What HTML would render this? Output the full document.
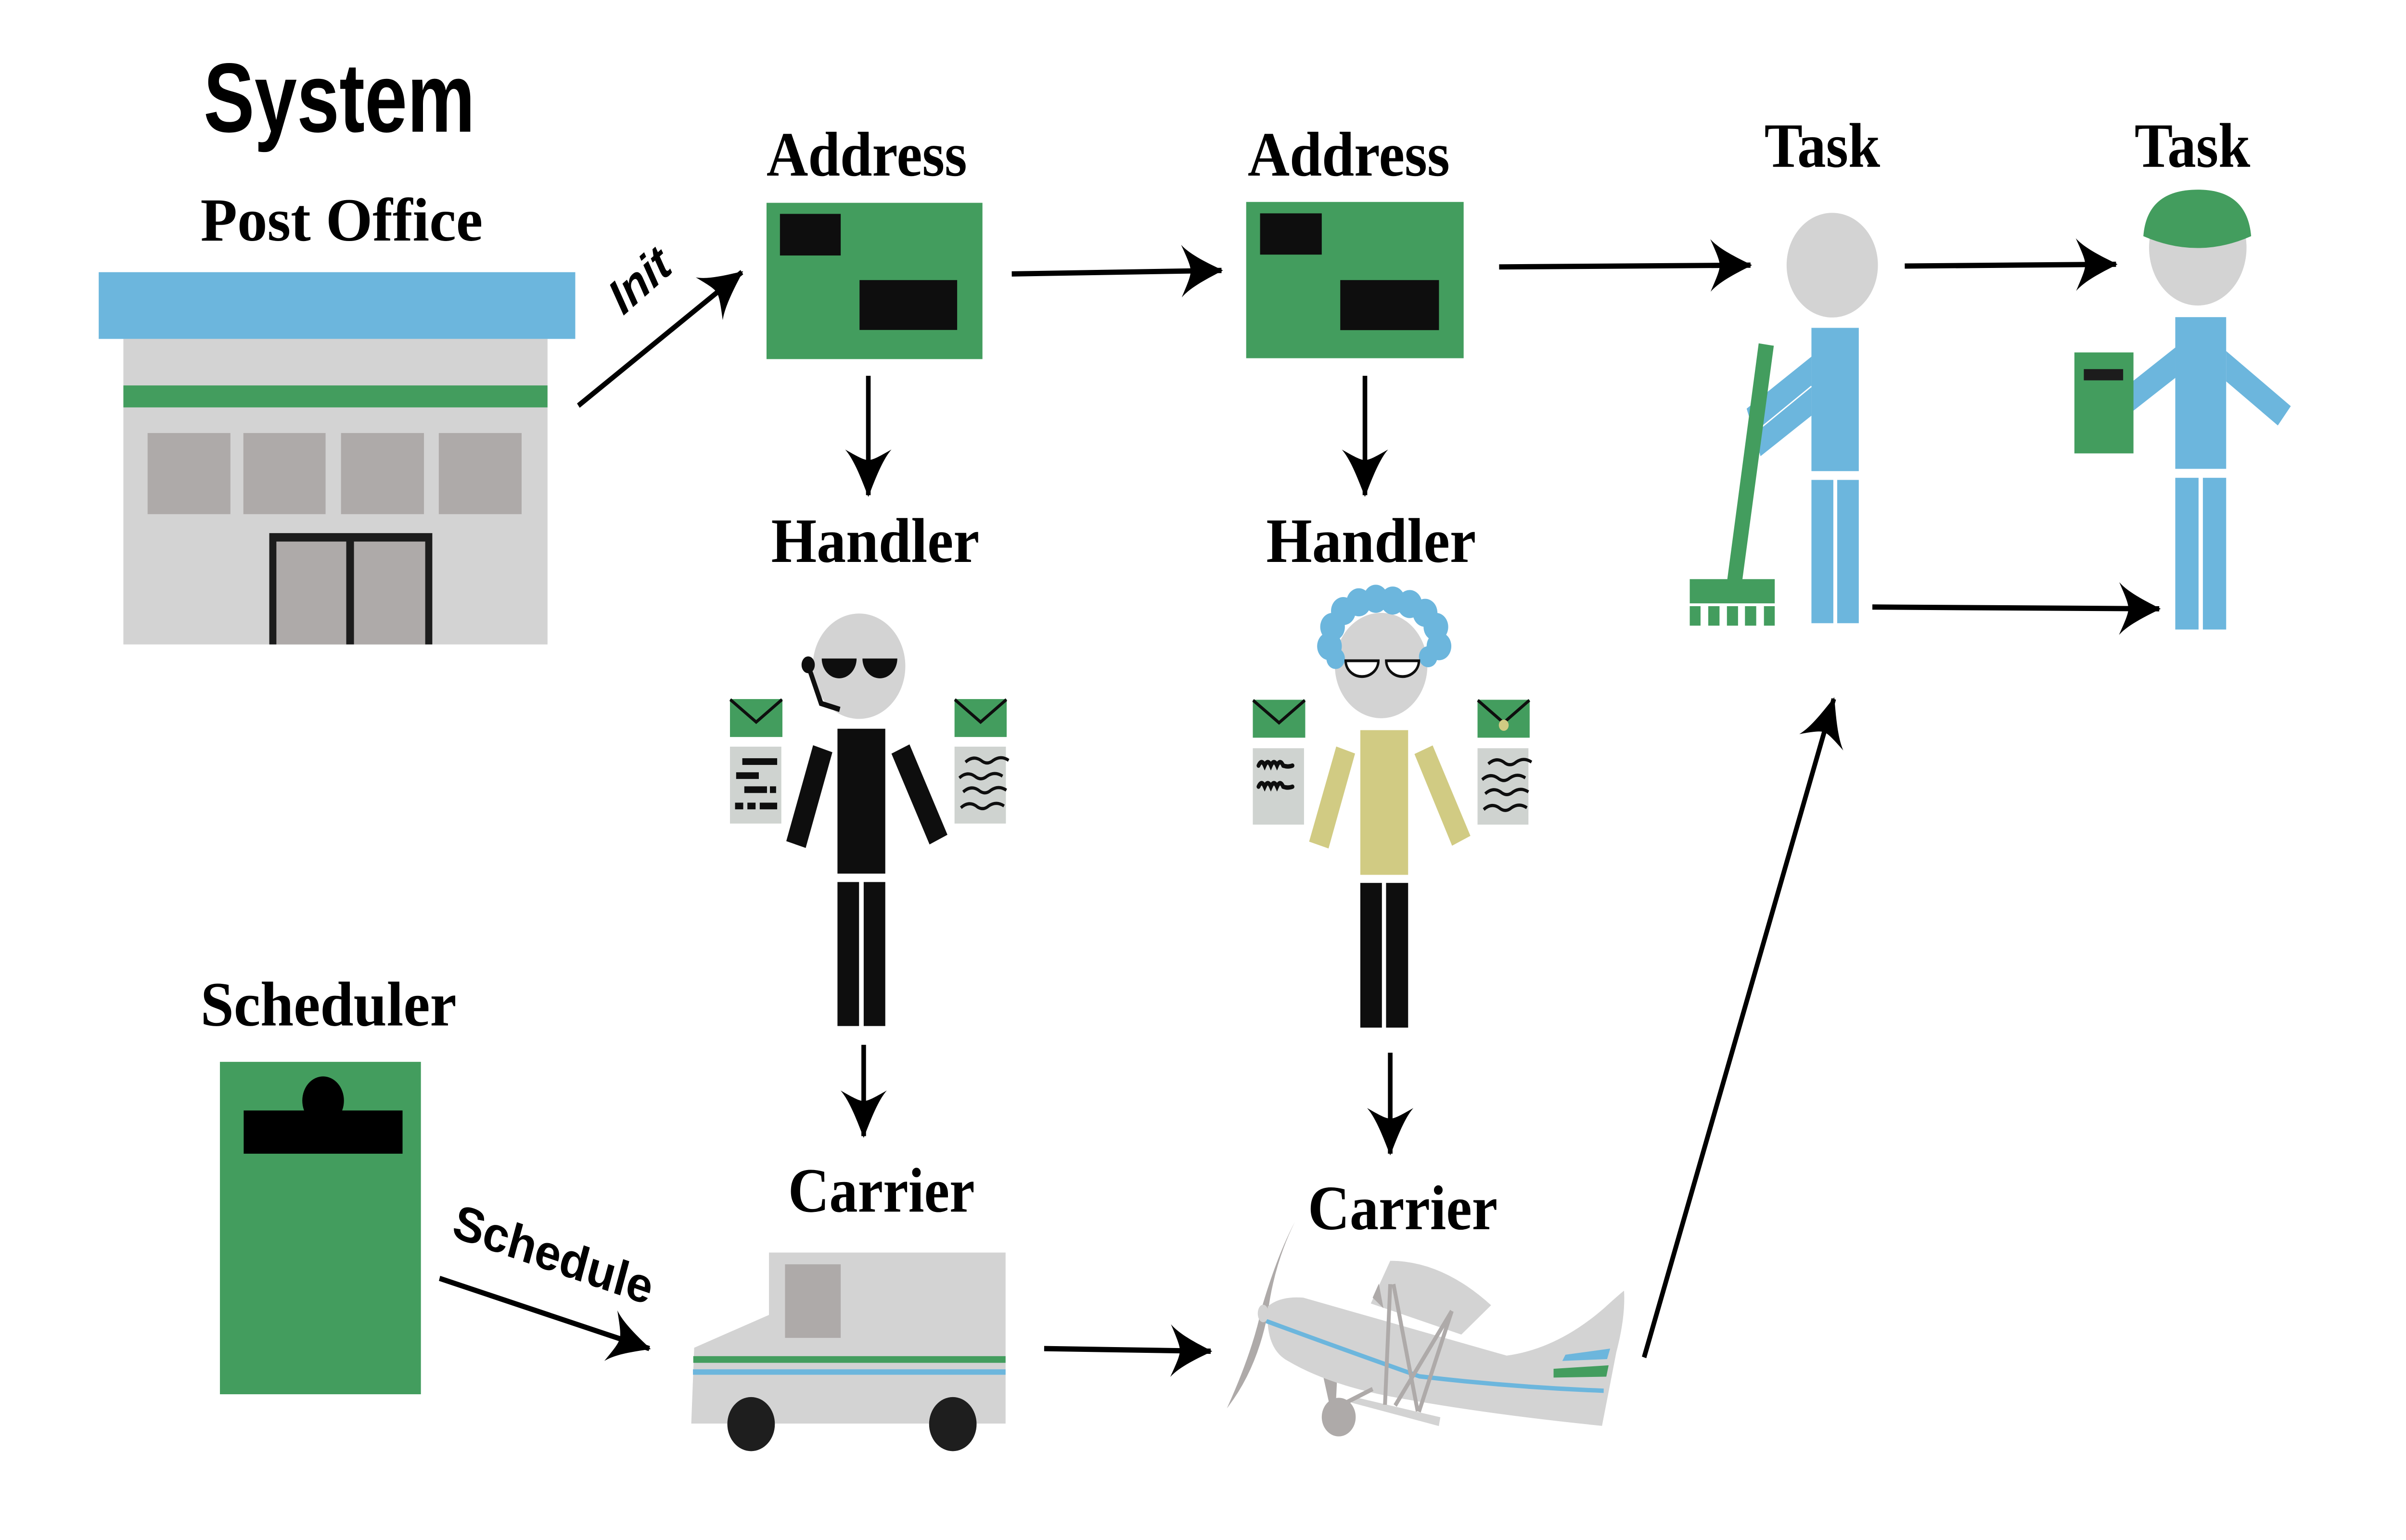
<!DOCTYPE html>
<html><head><meta charset="utf-8">
<style>
html,body{margin:0;padding:0;background:#fff;width:100vw;height:100vh;overflow:hidden;}
svg{display:block;position:absolute;left:0;top:0;width:100vw;height:100vh;}
.t{font-family:"Liberation Serif",serif;font-weight:bold;fill:#000;}
.s{font-family:"Liberation Sans",sans-serif;font-weight:bold;fill:#000;}
</style></head><body>
<svg viewBox="0 0 1560 877" preserveAspectRatio="none" xmlns="http://www.w3.org/2000/svg">
<defs>
<marker id="ah" markerUnits="userSpaceOnUse" viewBox="0 -16 28 32" markerWidth="28" markerHeight="32" refX="26" refY="0" orient="auto">
<path d="M27,0 C18,-4 6,-9 0,-15 C4,-7 6,-3 6,0 C6,3 4,7 0,15 C6,9 18,4 27,0Z" fill="#000"/>
</marker>
</defs>
<rect width="1560" height="877" fill="#fff"/>

<text class="s" x="132" y="75" font-size="56" textLength="176" lengthAdjust="spacingAndGlyphs">System</text>
<text class="t" x="130" y="137" font-size="35" textLength="183" lengthAdjust="spacingAndGlyphs">Post Office</text>

<rect x="64" y="155" width="309" height="38" fill="#6cb6dd"/>
<rect x="80" y="193" width="275" height="174" fill="#d3d3d3"/>
<rect x="80" y="219.5" width="275" height="12.5" fill="#439d5e"/>
<rect x="95.7" y="246.6" width="53.7" height="46.2" fill="#aeaaa9"/>
<rect x="157.8" y="246.6" width="53.3" height="46.2" fill="#aeaaa9"/>
<rect x="221.1" y="246.6" width="53.8" height="46.2" fill="#aeaaa9"/>
<rect x="284.5" y="246.6" width="53.7" height="46.2" fill="#aeaaa9"/>
<rect x="174.6" y="303.6" width="105.7" height="63.4" fill="#1c1c1c"/>
<rect x="179.2" y="308.4" width="45.3" height="58.6" fill="#aeaaa9"/>
<rect x="229.5" y="308.4" width="46.2" height="58.6" fill="#aeaaa9"/>

<line x1="375" y1="231" x2="481" y2="155" stroke="#000" stroke-width="3" marker-end="url(#ah)"/>
<text class="s" x="0" y="0" font-size="28" font-style="italic" transform="translate(404,180) rotate(-38)">Init</text>

<text class="t" x="497" y="100" font-size="36" textLength="130" lengthAdjust="spacingAndGlyphs">Address</text>
<rect x="497" y="115.5" width="140" height="89" fill="#439d5e"/>
<rect x="505.7" y="121.8" width="39.4" height="23.7" fill="#0e0e0e"/>
<rect x="557.3" y="159.5" width="63.3" height="28.4" fill="#0e0e0e"/>
<line x1="656" y1="156" x2="792" y2="154" stroke="#000" stroke-width="3" marker-end="url(#ah)"/>

<text class="t" x="809" y="100" font-size="36" textLength="131" lengthAdjust="spacingAndGlyphs">Address</text>
<rect x="808" y="115" width="141" height="89" fill="#439d5e"/>
<rect x="817" y="121.5" width="40" height="23.5" fill="#0e0e0e"/>
<rect x="869" y="159.5" width="64" height="28.5" fill="#0e0e0e"/>
<line x1="972" y1="152" x2="1135" y2="151" stroke="#000" stroke-width="3" marker-end="url(#ah)"/>

<text class="t" x="1144" y="95" font-size="36" textLength="75" lengthAdjust="spacingAndGlyphs">Task</text>
<text class="t" x="1384" y="95" font-size="36" textLength="75" lengthAdjust="spacingAndGlyphs">Task</text>
<line x1="1235" y1="151.5" x2="1372" y2="150.5" stroke="#000" stroke-width="3" marker-end="url(#ah)"/>

<line x1="563" y1="214" x2="563" y2="282" stroke="#000" stroke-width="3" marker-end="url(#ah)"/>
<line x1="885" y1="214" x2="885" y2="282" stroke="#000" stroke-width="3" marker-end="url(#ah)"/>
<text class="t" x="500" y="320" font-size="36" textLength="135" lengthAdjust="spacingAndGlyphs">Handler</text>
<text class="t" x="821" y="320" font-size="36" textLength="136" lengthAdjust="spacingAndGlyphs">Handler</text>

<ellipse cx="557" cy="379.4" rx="30" ry="30" fill="#d3d3d3"/>
<path d="M532.8,375 a11.3,11.3 0 0 0 22.6,0 Z" fill="#0e0e0e"/>
<path d="M559.2,375 a11.3,11.3 0 0 0 22.6,0 Z" fill="#0e0e0e"/>
<polyline points="524,379 532.4,400.6 544.5,404" fill="none" stroke="#0e0e0e" stroke-width="3"/>
<ellipse cx="524" cy="378.6" rx="4.3" ry="4.8" fill="#0e0e0e"/>
<rect x="543" y="415" width="31" height="82.5" fill="#0e0e0e"/>
<rect x="543" y="502.3" width="14" height="82" fill="#0e0e0e"/>
<rect x="560" y="502.3" width="14" height="82" fill="#0e0e0e"/>
<polygon points="527.2,424.4 539.7,428.4 522.4,482.9 509.8,479" fill="#0e0e0e"/>
<polygon points="578,429.2 589.7,423.9 614.3,475.4 602.7,480.9" fill="#0e0e0e"/>
<rect x="473.3" y="398.1" width="34" height="21.6" fill="#439d5e"/>
<polyline points="473.5,398.4 490.3,411.2 507,398.4" fill="none" stroke="#0e0e0e" stroke-width="1.8"/>
<rect x="473.3" y="425.2" width="33.3" height="43.8" fill="#cfd3d0"/>
<g fill="#0e0e0e">
<rect x="481.3" y="431.8" width="22.6" height="3.8"/>
<rect x="477.3" y="439.8" width="14.7" height="3.8"/>
<rect x="482.6" y="447.8" width="14.7" height="3.8"/>
<rect x="499.2" y="447.8" width="4" height="3.8"/>
<rect x="476.6" y="457.1" width="5.3" height="3.8"/>
<rect x="484.6" y="457.1" width="5.3" height="3.8"/>
<rect x="492.6" y="457.1" width="11.3" height="3.8"/>
</g>
<rect x="618.9" y="398.1" width="33.8" height="21.6" fill="#439d5e"/>
<polyline points="619.1,398.4 635.8,411.2 652.5,398.4" fill="none" stroke="#0e0e0e" stroke-width="1.8"/>
<rect x="618.9" y="425.2" width="33.3" height="43.8" fill="#cfd3d0"/>
<g fill="none" stroke="#0e0e0e" stroke-width="1.8">
<path d="M626,434 q5,-4 10,-1 q4,3 8,0 q5,-3 10,0"/>
<path d="M622,443 q5,-4 10,-1 q4,3 8,0 q5,-3 10,0"/>
<path d="M624.5,451 q5,-4 10,-1 q4,3 8,0 q5,-3 10,0"/>
<path d="M623,460 q5,-4 10,-1 q4,3 8,0 q5,-3 10,0"/>
</g>

<ellipse cx="895.5" cy="379" rx="30" ry="30" fill="#d3d3d3"/>
<g fill="#6cb6dd">
<circle cx="862" cy="368" r="8"/><circle cx="864" cy="357" r="8"/><circle cx="871" cy="348" r="8"/>
<circle cx="881" cy="343" r="8"/><circle cx="892" cy="341" r="8"/><circle cx="903" cy="342" r="8"/>
<circle cx="914" cy="344" r="8"/><circle cx="924" cy="349" r="8"/><circle cx="931" cy="357" r="8"/>
<circle cx="933" cy="368" r="8"/><circle cx="926" cy="374" r="6"/><circle cx="866" cy="375" r="6"/>
</g>
<path d="M872.5,376.3 a10.6,9 0 0 0 21.2,0 Z" fill="#fff" stroke="#0e0e0e" stroke-width="1.6"/>
<path d="M898.8,376.3 a10.6,9 0 0 0 21.2,0 Z" fill="#fff" stroke="#0e0e0e" stroke-width="1.6"/>
<rect x="882" y="415.8" width="31" height="82.4" fill="#d1cb83"/>
<rect x="882" y="502.8" width="14" height="82.4" fill="#0e0e0e"/>
<rect x="898.7" y="502.8" width="14.3" height="82.4" fill="#0e0e0e"/>
<polygon points="866.4,425.1 878.6,429.1 861.4,483.2 848.8,479.3" fill="#d1cb83"/>
<polygon points="917.1,429.4 928.9,424.5 953.4,476 941.5,481.6" fill="#d1cb83"/>
<rect x="812.3" y="398.5" width="34" height="21.6" fill="#439d5e"/>
<polyline points="812.5,398.8 829.3,411.6 846,398.8" fill="none" stroke="#0e0e0e" stroke-width="1.8"/>
<rect x="812.3" y="426.1" width="33.2" height="43.5" fill="#cfd3d0"/>
<g fill="none" stroke="#0e0e0e" stroke-width="2.5" stroke-linecap="round">
<path d="M816,436 q2,-4 4,0 q2,-4 4,0 q2,-4 4,0 q2,-4 4,0 q3,1 6,0"/>
<path d="M816,448 q2,-4 4,0 q2,-4 4,0 q2,-4 4,0 q2,-4 4,0 q3,1 6,0"/>
</g>
<rect x="958" y="398.5" width="33.8" height="21.6" fill="#439d5e"/>
<polyline points="958.2,398.8 974.9,411.6 991.6,398.8" fill="none" stroke="#0e0e0e" stroke-width="1.8"/>
<circle cx="975" cy="413" r="3.2" fill="#d1cb83"/>
<rect x="958" y="426.1" width="33" height="43.5" fill="#cfd3d0"/>
<g fill="none" stroke="#0e0e0e" stroke-width="1.8">
<path d="M965,435 q5,-4 10,-1 q4,3 8,0 q5,-3 10,0"/>
<path d="M961,444 q5,-4 10,-1 q4,3 8,0 q5,-3 10,0"/>
<path d="M963,452 q5,-4 10,-1 q4,3 8,0 q5,-3 10,0"/>
<path d="M962,461 q5,-4 10,-1 q4,3 8,0 q5,-3 10,0"/>
</g>

<line x1="560" y1="595" x2="560" y2="647" stroke="#000" stroke-width="3" marker-end="url(#ah)"/>
<line x1="901.4" y1="599.5" x2="901.4" y2="657" stroke="#000" stroke-width="3" marker-end="url(#ah)"/>
<text class="t" x="511" y="690" font-size="36" textLength="121" lengthAdjust="spacingAndGlyphs">Carrier</text>
<text class="t" x="848" y="700" font-size="36" textLength="123" lengthAdjust="spacingAndGlyphs">Carrier</text>

<text class="t" x="130" y="584" font-size="36" textLength="166" lengthAdjust="spacingAndGlyphs">Scheduler</text>
<rect x="142.6" y="604.7" width="130.3" height="189.3" fill="#439d5e"/>
<ellipse cx="209.5" cy="626.8" rx="13.5" ry="13.8" fill="#000"/>
<rect x="158" y="632.4" width="103" height="24.6" fill="#000"/>
<line x1="285" y1="728" x2="421" y2="768" stroke="#000" stroke-width="3" marker-end="url(#ah)"/>
<text class="s" x="0" y="0" font-size="28" transform="translate(292,704) rotate(17)" textLength="134" lengthAdjust="spacingAndGlyphs">Schedule</text>

<path d="M498.6,713.3 L652,713.3 L652,810.7 L448.2,810.7 L450.1,767.5 L498.6,748.8 Z" fill="#d3d3d3"/>
<rect x="509" y="720" width="36.1" height="41.9" fill="#aeaaa9"/>
<rect x="449.5" y="772.3" width="202.5" height="3.8" fill="#439d5e"/>
<rect x="449.3" y="779.8" width="202.7" height="3.1" fill="#6cb6dd"/>
<circle cx="487" cy="811" r="15.4" fill="#1e1e1e"/>
<circle cx="617.8" cy="811" r="15.4" fill="#1e1e1e"/>
<line x1="677" y1="768" x2="785" y2="769.5" stroke="#000" stroke-width="3" marker-end="url(#ah)"/>

<path d="M839.6,695.8 Q826,720 822,748 Q815,780 795.5,802 Q812,770 818,745 Q828,715 839.6,695.8Z" fill="#aeaaa9"/>
<path d="M901.4,718 Q935,718 966.8,743.3 L947.5,760 L888.8,742.3 Z" fill="#d3d3d3"/>
<polygon points="890,739 894,731 897,745" fill="#aeaaa9"/>
<path d="M857,780 L862,800 L866,802 L867,784 Z" fill="#aeaaa9"/>
<circle cx="868" cy="807" r="11" fill="#aeaaa9"/>
<path d="M822,744 Q830,738 845,739 L976.9,772 Q1010,768 1040,745 Q1050,737 1053,735 Q1054,750 1048,770 L1038.7,812 Q960,805 900,795 Q860,788 835,775 Q820,768 822,744Z" fill="#d3d3d3"/>
<path d="M821,752.3 Q860,765 920.3,783.8 Q980,790 1039.8,792" fill="none" stroke="#6cb6dd" stroke-width="2.5"/>
<polygon points="1015,771.5 1044,768 1042,774 1013,775" fill="#6cb6dd"/>
<polygon points="1007.3,779.5 1043,777.5 1041.5,784 1007.3,784.5" fill="#439d5e"/>
<polygon points="877.3,795.4 933.9,807.1 932.9,812.1 876.3,798.8" fill="#d3d3d3"/>
<g stroke="#aeaaa9" stroke-width="2.5" fill="none">
<line x1="901.4" y1="731.3" x2="898" y2="800"/>
<line x1="903.5" y1="731.3" x2="919.2" y2="803.7"/>
<line x1="941.3" y1="746.6" x2="904.6" y2="800.4"/>
<line x1="941.3" y1="746.6" x2="920" y2="804"/>
<line x1="870" y1="800" x2="890" y2="791"/>
</g>
<ellipse cx="819" cy="748" rx="3.5" ry="5" fill="#d3d3d3"/>

<line x1="1066" y1="773" x2="1189" y2="398" stroke="#000" stroke-width="3" marker-end="url(#ah)"/>

<ellipse cx="1188" cy="151" rx="29.6" ry="29.8" fill="#d3d3d3"/>
<rect x="1174.5" y="186.7" width="30.7" height="81.6" fill="#6cb6dd"/>
<rect x="1174.5" y="273.3" width="14.2" height="81.6" fill="#6cb6dd"/>
<rect x="1191.2" y="273.3" width="14" height="81.6" fill="#6cb6dd"/>
<polygon points="1174.5,203.1 1174.5,236.7 1141.5,259.8 1132.5,232.7" fill="#6cb6dd"/>
<line x1="1174.5" y1="220" x2="1137" y2="247" stroke="#fff" stroke-width="0.8"/>
<polygon points="1140.3,195.5 1150.1,196.9 1129.7,330.2 1119.9,330.2" fill="#439d5e"/>
<rect x="1095.6" y="329.8" width="55.1" height="13.8" fill="#439d5e"/>
<g fill="#439d5e">
<rect x="1095.6" y="345.2" width="7" height="11.1"/>
<rect x="1107.6" y="345.2" width="7.3" height="11.1"/>
<rect x="1119.7" y="345.2" width="7.2" height="11.1"/>
<rect x="1131.4" y="345.2" width="7.3" height="11.1"/>
<rect x="1143.7" y="345.2" width="7" height="11.1"/>
</g>
<line x1="1214" y1="345.7" x2="1400" y2="346.7" stroke="#000" stroke-width="3" marker-end="url(#ah)"/>

<ellipse cx="1425" cy="141" rx="31.6" ry="33" fill="#d3d3d3"/>
<path d="M1389.7,134.5 Q1392,108 1425,108 Q1457,108 1459.6,134.5 Q1425,148 1389.7,134.5Z" fill="#439d5e"/>
<rect x="1410.4" y="180.6" width="33" height="86.4" fill="#6cb6dd"/>
<rect x="1410.4" y="272.1" width="15.1" height="86.4" fill="#6cb6dd"/>
<rect x="1428.3" y="272.1" width="15.1" height="86.4" fill="#6cb6dd"/>
<polygon points="1410.4,197.9 1410.4,215.2 1382.7,234.3 1382.7,217.2" fill="#6cb6dd"/>
<polygon points="1443.4,199.9 1485.3,231.3 1476.9,242.3 1443.4,217.2" fill="#6cb6dd"/>
<rect x="1345" y="200.7" width="38.3" height="57.5" fill="#439d5e"/>
<rect x="1351.1" y="210.2" width="25.5" height="6.4" fill="#1c1c1c"/>
</svg>
</body></html>
